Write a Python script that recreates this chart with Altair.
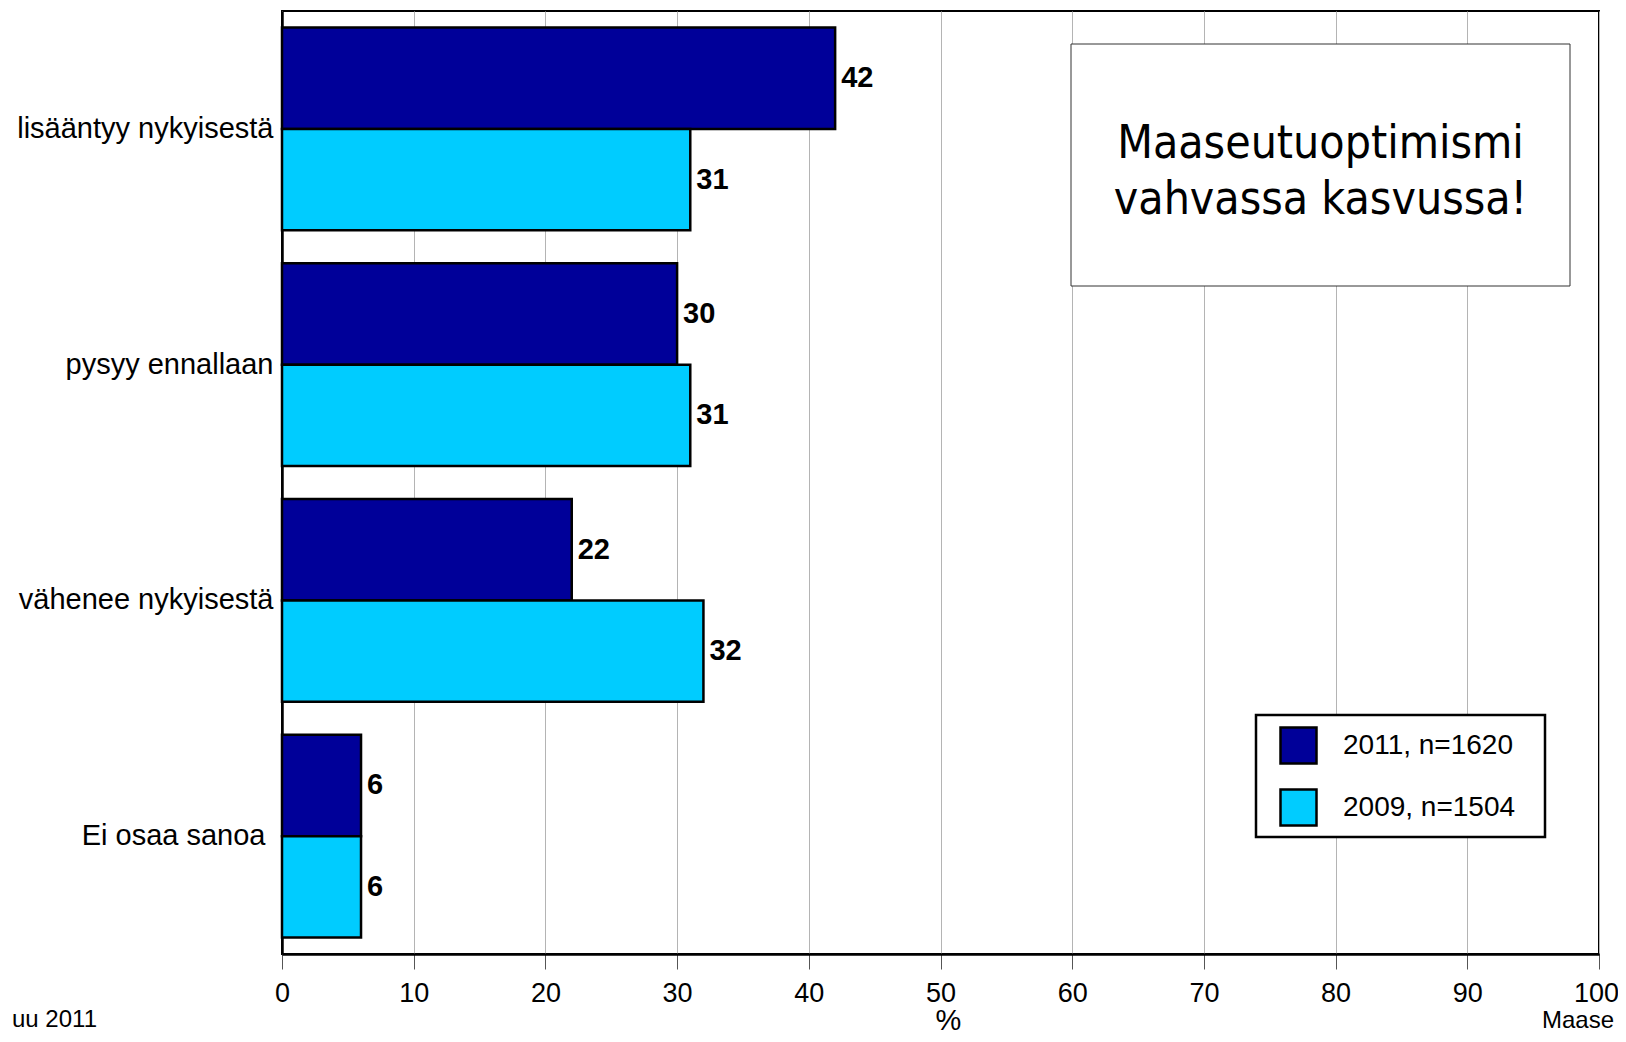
import altair as alt
import pandas as pd

categories = ["lisääntyy nykyisestä", "pysyy ennallaan", "vähenee nykyisestä", "Ei osaa sanoa"]
series = ["2011, n=1620", "2009, n=1504"]
values_2011 = [42, 30, 22, 6]
values_2009 = [31, 31, 32, 6]
colors = ["#000099", "#00CCFF"]
x_ticks = [0, 10, 20, 30, 40, 50, 60, 70, 80, 90, 100]
title_text = "Maaseutuoptimismi\nvahvassa kasvussa!"
footer_left = "uu 2011"
footer_right = "Maase"

rows = []
for s, vals in zip(series, [values_2011, values_2009]):
    for c, v in zip(categories, vals):
        rows.append({"category": c, "series": s, "value": v})
df = pd.DataFrame(rows)

FONT = "Liberation Sans"
W, H = 1317, 943

x_enc = alt.X(
    "value:Q",
    scale=alt.Scale(domain=[0, 100], nice=False),
    axis=alt.Axis(
        values=x_ticks, title="%", grid=True, gridColor="#b4b4b4", gridWidth=1,
        tickSize=15, tickColor="#555555", tickWidth=1,
        labelFontSize=27, labelFont=FONT, labelColor="black", labelPadding=11,
        labelFlush=False, labelOverlap=False,
        labelOffset={"condition": {"test": "datum.value === 100", "value": -3}, "value": 0},
        domainColor="black", domainWidth=2.5,
        titleFont=FONT, titleFontSize=29, titleFontWeight="normal", titleColor="black",
        titleX=666, titleY=75, titleBaseline="alphabetic", titleAnchor="start", titleAlign="center",
    ),
)
y_enc = alt.Y(
    "category:N", sort=categories,
    scale=alt.Scale(paddingInner=0.14, paddingOuter=0.07),
    axis=alt.Axis(title=None, ticks=False, labelFontSize=29, labelFont=FONT,
                  labelColor="black", domainColor="black", domainWidth=2.5,
                  labelPadding={"condition": {"test": "datum.value === 'Ei osaa sanoa'", "value": 17}, "value": 9},
                  labelLimit=400),
)
yoff = alt.YOffset("series:N", sort=series)

bars = alt.Chart(df).mark_bar(stroke="black", strokeWidth=2.5).encode(
    x=x_enc, y=y_enc, yOffset=yoff,
    color=alt.Color(
        "series:N", sort=series,
        scale=alt.Scale(domain=series, range=colors),
        legend=alt.Legend(
            orient="none", legendX=997, legendY=715, title=None,
            symbolType="square", symbolSize=1296, symbolStrokeColor="black",
            symbolStrokeWidth=2.5, symbolOpacity=1, symbolOffset=0,
            labelFontSize=28, labelFont=FONT, labelColor="black", labelOffset=25,
            labelLimit=500, rowPadding=15, padding=0, zindex=2,
        ),
    ),
)

labels = alt.Chart(df).mark_text(
    align="left", baseline="middle", dx=6, fontWeight="bold", fontSize=29, font=FONT, color="black"
).encode(x="value:Q", y=alt.Y("category:N", sort=categories), yOffset=yoff, text="value:Q")

legend_box = alt.Chart(pd.DataFrame({"t": ["legend"]})).mark_rect(
    fill="white", stroke="black", strokeWidth=2.5
).encode(x=alt.value(974), x2=alt.value(1263), y=alt.value(704), y2=alt.value(826))

box = alt.Chart(pd.DataFrame({"t": [title_text]})).mark_rect(
    fill="white", stroke="#333333", strokeWidth=1
).encode(x=alt.value(789), x2=alt.value(1288), y=alt.value(33), y2=alt.value(275))

title = alt.Chart(pd.DataFrame({"t": [title_text]})).mark_text(
    align="center", baseline="alphabetic", lineBreak="\n", lineHeight=56,
    font="DejaVu Sans Condensed, DejaVu Sans", fontSize=46, color="black"
).encode(x=alt.value(1038.5), y=alt.value(147), text="t:N")

foot_l = alt.Chart(pd.DataFrame({"t": [footer_left]})).mark_text(
    align="left", baseline="alphabetic", font=FONT, fontSize=24, color="black"
).encode(x=alt.value(-270), y=alt.value(1016), text="t:N")

foot_r = alt.Chart(pd.DataFrame({"t": [footer_right]})).mark_text(
    align="right", baseline="alphabetic", font=FONT, fontSize=24, color="black"
).encode(x=alt.value(1332), y=alt.value(1017), text="t:N")

chart = alt.layer(bars, labels, legend_box, box, title, foot_l, foot_r).properties(
    width=W, height=H,
    autosize=alt.AutoSizeParams(type="none"),
    padding={"left": 274, "top": 3, "right": 19, "bottom": 80},
).configure_view(stroke="black", strokeWidth=2)

chart.save("out.html", embed_options={"renderer": "svg", "actions": False})
